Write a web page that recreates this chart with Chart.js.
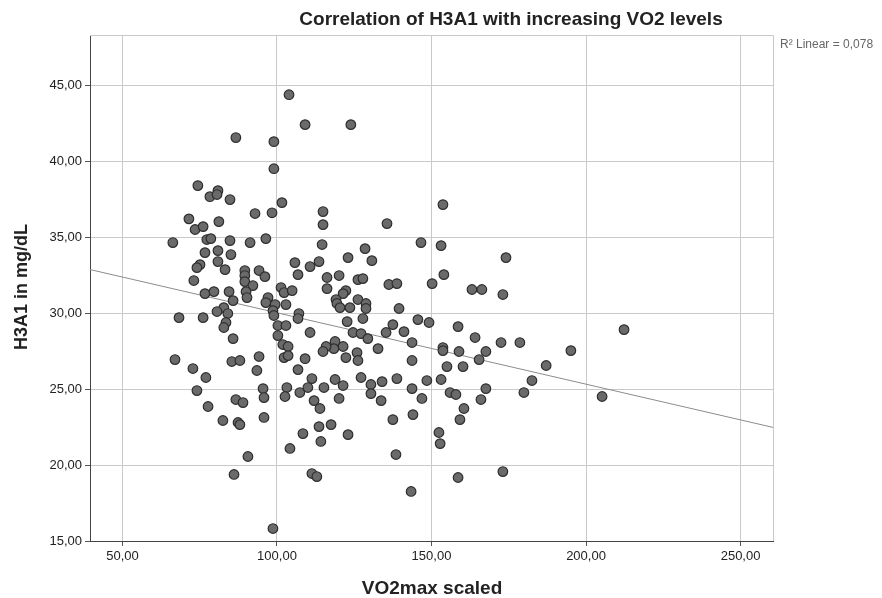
<!DOCTYPE html>
<html>
<head>
<meta charset="utf-8">
<script src="https://cdn.jsdelivr.net/npm/chart.js@4"></script>
<style>
  html, body { margin: 0; padding: 0; background: #fff; }
  #wrap { position: relative; width: 882px; height: 598px; }
</style>
</head>
<body>
<div id="wrap"><canvas id="chart"></canvas></div>
<script>
// values
const vo2max = [
  103.9, 109.1, 123.9, 86.7, 99.0, 99.0, 74.4, 78.3, 80.9, 80.6, 84.8, 71.5, 73.5, 76.1, 81.2, 92.9, 98.4, 101.6, 114.9, 114.9,
  135.6, 153.7, 66.3, 77.3, 78.6, 84.8, 91.3, 96.4, 76.7, 80.9, 85.1, 80.9, 75.1, 74.1, 83.2, 89.6, 89.6, 89.6, 94.2, 96.1,
  73.1, 92.2, 101.3, 102.3, 76.7, 79.6, 84.5, 85.8, 90.0, 90.3, 97.1, 96.4, 99.4, 102.9, 82.8, 80.6, 84.1, 98.7, 99.0, 68.3,
  76.1, 83.5, 82.8, 100.3, 102.9, 100.3, 85.8, 101.9, 103.6, 102.3, 103.6, 67.0, 72.8, 85.4, 88.0, 94.2, 93.5, 77.0,
  114.6, 128.5, 105.8, 110.7, 113.6, 123.0, 130.7, 106.8, 116.2, 120.1, 126.2, 127.8, 116.2, 122.3, 121.4, 136.2, 138.8, 104.9, 119.1, 119.4,
  126.2, 128.8, 128.8, 120.4, 123.6, 139.5, 107.1, 106.8, 127.8, 122.7, 137.5, 110.7, 124.6, 127.2, 129.4, 135.3, 141.1, 143.7, 118.8, 118.4,
  121.4, 115.9, 114.9, 125.9, 132.7, 122.3, 126.2, 109.1, 106.8, 143.7, 111.3, 118.8, 127.2, 134.0, 138.8,
  146.6, 153.1, 174.1, 154.0, 150.2, 163.1, 166.3, 173.1, 145.6, 149.2, 158.6, 164.1, 172.5, 178.6, 153.7, 153.7, 158.9, 167.6, 165.4, 155.0,
  160.2, 148.5, 153.1, 182.5,
  212.3, 195.1, 187.1,
  74.1, 95.5, 95.8, 86.7, 89.0, 103.2, 102.6, 77.7, 82.5, 87.4, 88.0, 95.8, 104.2, 90.6, 86.1, 98.7,
  107.4, 110.0, 115.2, 121.4, 130.4, 130.4, 143.7, 112.0, 113.9, 120.1, 133.7, 137.5, 144.0, 113.6, 117.5, 108.4, 123.0, 114.2, 138.5, 111.3,
  112.9, 143.4,
  146.9, 156.0, 157.9, 167.6, 166.0, 179.9, 160.5, 159.2, 152.4, 152.8, 173.1, 158.6, 205.2
];
const h3a1 = [
  44.37, 42.4, 42.4, 41.55, 41.28, 39.5, 38.39, 37.66, 38.06, 37.8, 37.47, 36.2, 35.5, 35.69, 36.02, 36.55, 36.6, 37.27, 36.68, 35.82,
  35.89, 37.14, 34.64, 34.84, 34.9, 34.77, 34.64, 34.9, 33.98, 34.11, 33.85, 33.39, 33.19, 32.99, 32.86, 32.8, 32.47, 32.07, 32.8, 32.4,
  32.14, 31.81, 31.68, 31.35, 31.28, 31.41, 31.41, 30.82, 31.41, 31.02, 31.02, 30.69, 30.56, 30.56, 30.36, 30.1, 29.97, 30.16, 29.84, 29.7,
  29.7, 29.38, 29.05, 29.18, 29.18, 28.52, 28.32, 27.93, 27.8, 27.07, 27.2, 26.94, 26.35, 26.81, 26.88, 27.14, 26.22, 25.76,
  34.51, 34.24, 33.32, 33.06, 33.39, 33.65, 33.45, 32.53, 32.34, 32.47, 32.2, 32.27, 31.61, 31.48, 31.28, 31.88, 31.94, 31.48, 30.89, 30.63,
  30.89, 30.63, 30.3, 30.36, 30.36, 30.3, 29.97, 29.64, 29.64, 29.44, 29.24, 28.72, 28.72, 28.65, 28.32, 28.72, 28.78, 28.06, 28.13, 27.66,
  27.8, 27.8, 27.47, 27.4, 27.66, 27.07, 26.88, 27.0, 26.28, 26.88, 25.69, 25.63, 25.76, 25.49, 25.69,
  34.64, 34.44, 33.65, 32.53, 31.94, 31.55, 31.55, 31.22, 29.57, 29.38, 29.11, 28.39, 28.06, 28.06, 27.73, 27.53, 27.47, 27.47, 26.94, 26.48,
  26.48, 25.56, 25.63, 25.56,
  28.91, 27.53, 26.55,
  24.9, 25.03, 24.44, 24.31, 24.11, 25.1, 24.51, 23.85, 22.93, 22.8, 22.66, 23.13, 21.09, 20.56, 19.38, 15.82,
  24.77, 25.1, 25.1, 25.23, 25.3, 24.7, 25.03, 24.24, 23.72, 24.38, 24.24, 22.99, 23.32, 22.53, 22.66, 22.07, 22.0, 21.55, 20.69, 19.44,
  19.24, 18.26,
  24.38, 24.77, 24.64, 25.03, 24.31, 24.77, 23.72, 22.99, 22.14, 21.41, 19.57, 19.18, 24.51
];

const xTicks = [50, 100, 150, 200, 250];
const yTicks = [15, 20, 25, 30, 35, 40, 45];
const xRange = [39.5, 260.5];
const yRange = [15, 48.3];

// linear fit shown in the chart (R² = 0,078)
const fitIntercept = 34.72;
const fitSlope = -0.047;

const titleText = 'Correlation of H3A1 with increasing VO2 levels';
const xTitle = 'VO2max scaled';
const yTitle = 'H3A1 in mg/dL';
const r2Text = 'R\u00B2 Linear = 0,078';

const FONT = "'Liberation Sans', Arial, sans-serif";
const fmt = v => v.toFixed(2).replace('.', ',');

const points = vo2max.map((x, i) => ({ x: x, y: h3a1[i] }));
const fitLine = xRange.map(x => ({ x: x, y: fitIntercept + fitSlope * x }));

new Chart(document.getElementById('chart'), {
  type: 'scatter',
  data: {
    datasets: [
      {
        data: fitLine,
        showLine: true,
        borderColor: '#8c8c8c',
        borderWidth: 1,
        pointRadius: 0,
        order: 2
      },
      {
        data: points,
        backgroundColor: '#6a6a6a',
        borderColor: '#2e2e2e',
        borderWidth: 1.2,
        pointRadius: 4.8,
        order: 1
      }
    ]
  },
  options: {
    responsive: true,
    maintainAspectRatio: false,
    animation: false,
    layout: { padding: { left: 0, top: 35, right: 109, bottom: 0 } },
    plugins: { legend: { display: false }, tooltip: { enabled: false } },
    scales: {
      x: {
        type: 'linear',
        min: xRange[0], max: xRange[1],
        afterBuildTicks: s => { s.ticks = xTicks.map(v => ({ value: v })); },
        afterFit: s => { s.height = 57; },
        grid: { color: '#c9c9c9', lineWidth: 1, tickLength: 5, tickColor: '#555' },
        border: { color: '#444', width: 1 },
        ticks: { color: '#222', font: { family: FONT, size: 13 }, padding: 3, callback: v => fmt(v), maxRotation: 0 }
      },
      y: {
        type: 'linear',
        min: yRange[0], max: yRange[1],
        afterBuildTicks: s => { s.ticks = yTicks.map(v => ({ value: v })); },
        afterFit: s => { s.width = 90; },
        grid: { color: '#c9c9c9', lineWidth: 1, tickLength: 5, tickColor: '#555' },
        border: { color: '#444', width: 1 },
        ticks: { color: '#222', font: { family: FONT, size: 13 }, padding: 3, callback: v => fmt(v) }
      }
    }
  },
  plugins: [{
    id: 'frameAndText',
    beforeDatasetsDraw(chart) {
      const { ctx, chartArea: a } = chart;
      ctx.save();
      ctx.strokeStyle = '#c9c9c9';
      ctx.lineWidth = 1;
      ctx.beginPath();
      ctx.moveTo(a.left, a.top + 0.5);
      ctx.lineTo(a.right + 0.5, a.top + 0.5);
      ctx.lineTo(a.right + 0.5, a.bottom);
      ctx.stroke();
      ctx.restore();
    },
    afterDraw(chart) {
      const { ctx, chartArea: a } = chart;
      ctx.save();
      ctx.fillStyle = '#222';
      ctx.textBaseline = 'middle';
      ctx.textAlign = 'center';
      ctx.font = `bold 19px ${FONT}`;
      ctx.fillText(titleText, 511, 20);
      ctx.font = `bold 19px ${FONT}`;
      ctx.fillText(xTitle, 432, 589);
      ctx.save();
      ctx.translate(22, 287);
      ctx.rotate(-Math.PI / 2);
      ctx.font = `bold 18px ${FONT}`;
      ctx.fillText(yTitle, 0, 0);
      ctx.restore();
      ctx.font = `12px ${FONT}`;
      ctx.fillStyle = '#666';
      ctx.textAlign = 'left';
      ctx.fillText(r2Text, 780, 45);
      ctx.restore();
    }
  }]
});
</script>
</body>
</html>
